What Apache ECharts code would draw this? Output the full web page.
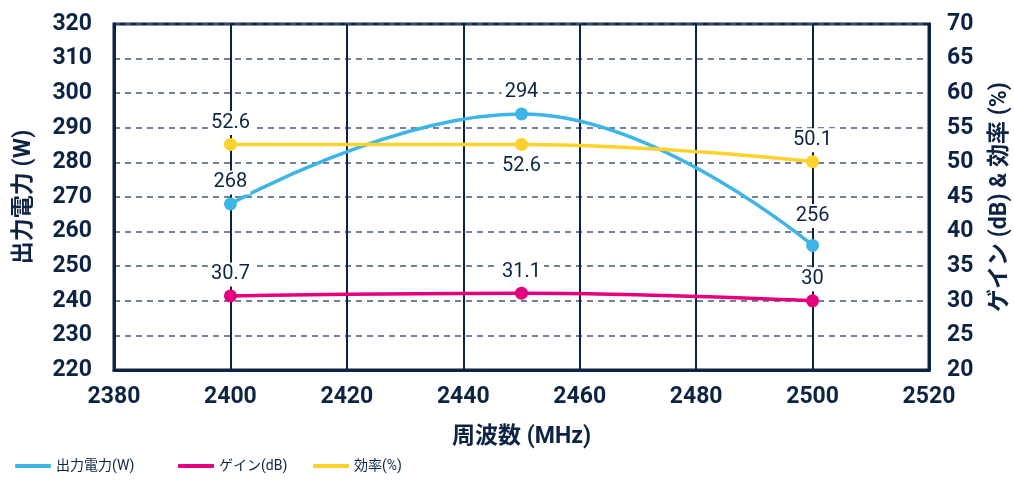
<!DOCTYPE html>
<html>
<head>
<meta charset="utf-8">
<script src="https://cdn.jsdelivr.net/npm/echarts@6/dist/echarts.min.js"></script>
<style>
  html, body { margin: 0; padding: 0; background: #fff; }
  #chart { width: 1014px; height: 481px; }
</style>
</head>
<body>
<div id="chart"></div>
<script>
// Frequency sweep: output power, gain and efficiency
const frequencies = [2400, 2450, 2500];
const outputPower = [268, 294, 256];      // W (left axis)
const gain = [30.7, 31.1, 30];            // dB (right axis)
const efficiency = [52.6, 52.6, 50.1];    // % (right axis)

const seriesNames = ['出力電力(W)', 'ゲイン(dB)', '効率(%)'];
const colors = ['#3db5e6', '#e5007d', '#fcd22b'];
const legendLefts = [10, 173, 308];

// per-point label placement
const effLabelPos = ['top', 'bottom', 'top'];
const powerLabelGap = [3, 3, 11];

const navy = '#0d2344';
const font = "Roboto, 'Noto Sans CJK JP', sans-serif";

const chart = echarts.init(document.getElementById('chart'));

function pairs(vals) {
  return frequencies.map((f, i) => [f, vals[i]]);
}

const labelBase = {
  show: true,
  color: navy,
  fontSize: 20,
  fontFamily: font,
  backgroundColor: '#fff',
  padding: [2, 3],
  distance: 3
};

function lineSeries(name, vals, color, yIdx, labelPositions, labelGaps) {
  return {
    name: name,
    type: 'line',
    yAxisIndex: yIdx,
    smooth: 0.45,
    symbol: 'circle',
    symbolSize: 13,
    data: pairs(vals).map((p, i) => ({
      value: p,
      label: Object.assign({}, labelBase, {
        position: labelPositions ? labelPositions[i] : 'top',
        distance: labelGaps ? labelGaps[i] : labelBase.distance
      })
    })),
    lineStyle: { color: color, width: 3.5 },
    itemStyle: { color: color },
    label: labelBase,
    z: 3
  };
}

const axisText = { color: navy, fontSize: 23, fontWeight: 'bold', fontFamily: font };
const nameText = { color: navy, fontSize: 23, fontWeight: 'bold', fontFamily: font };

chart.setOption({
  animation: false,
  color: colors,
  grid: {
    left: 114, right: 85, top: 24, bottom: 111,
    outerBoundsMode: 'none',
    containLabel: false,
    show: true, borderColor: navy, borderWidth: 3, backgroundColor: 'transparent'
  },
  legend: seriesNames.map((n, i) => ({
    bottom: 3, left: legendLefts[i],
    icon: 'roundRect',
    itemWidth: 36, itemHeight: 4,
    textStyle: { color: navy, fontSize: 14, fontFamily: font },
    data: [n]
  })),
  xAxis: {
    type: 'value',
    min: 2380, max: 2520, interval: 20,
    name: '周波数 (MHz)',
    nameLocation: 'middle',
    nameGap: 56,
    nameTextStyle: nameText,
    axisLine: { show: true, lineStyle: { color: navy, width: 3 } },
    axisTick: { show: false },
    axisLabel: Object.assign({ margin: 16, formatter: v => String(v) }, axisText),
    splitLine: { show: true, lineStyle: { color: navy, width: 2, type: 'solid' } }
  },
  yAxis: [
    {
      type: 'value',
      min: 220, max: 320, interval: 10,
      name: '出力電力 (W)',
      nameLocation: 'middle',
      nameRotate: 90,
      nameGap: 78,
      nameTextStyle: nameText,
      axisLine: { show: true, lineStyle: { color: navy, width: 3 } },
      axisTick: { show: false },
      axisLabel: Object.assign({ margin: 22 }, axisText),
      splitLine: { show: true, lineStyle: { color: '#445a78', width: 1.5, type: [6, 5] } }
    },
    {
      type: 'value',
      min: 20, max: 70, interval: 5,
      name: 'ゲイン (dB) & 効率 (%)',
      nameLocation: 'middle',
      nameRotate: 90,
      nameGap: 60,
      nameTextStyle: nameText,
      axisLine: { show: true, lineStyle: { color: navy, width: 3 } },
      axisTick: { show: false },
      axisLabel: Object.assign({ margin: 18 }, axisText),
      splitLine: { show: false }
    }
  ],
  series: [
    lineSeries(seriesNames[0], outputPower, colors[0], 0, null, powerLabelGap),
    lineSeries(seriesNames[1], gain, colors[1], 1),
    lineSeries(seriesNames[2], efficiency, colors[2], 1, effLabelPos)
  ]
});
</script>
</body>
</html>
